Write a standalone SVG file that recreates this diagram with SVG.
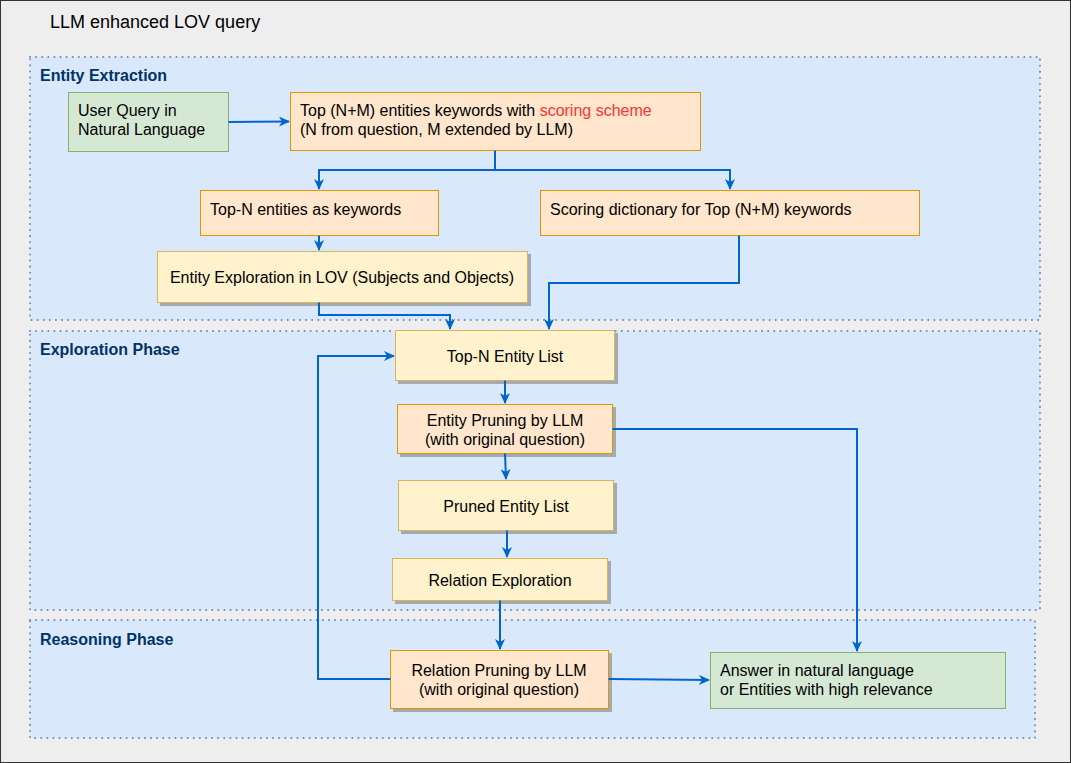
<svg xmlns="http://www.w3.org/2000/svg" width="1071" height="763" viewBox="0 0 1071 763">
<defs>
<marker id="arr" markerUnits="userSpaceOnUse" markerWidth="12" markerHeight="10" refX="10" refY="5" orient="auto">
<path d="M0,0 L11,5 L0,10 L3,5 Z" fill="#0066cc"/>
</marker>
<filter id="sh" x="-10%" y="-10%" width="120%" height="140%">
<feDropShadow dx="3" dy="3" stdDeviation="0.6" flood-color="#808080" flood-opacity="0.6"/>
</filter>
</defs>
<style>
.sec{fill:#dae8fc;stroke:#6c8ebf;stroke-width:2;stroke-dasharray:0.1 6;stroke-linecap:round}
.sl{font-family:"Liberation Sans",Arial,sans-serif;font-size:16px;font-weight:bold;fill:#003366}
.t{font-family:"Liberation Sans",Arial,sans-serif;font-size:16px;fill:#000}
.c{text-anchor:middle}
.g{fill:#d5e8d4;stroke:#82b366}
.o{fill:#ffe6cc;stroke:#d79b00}
.y{fill:#fff2cc;stroke:#d6b656}
.e{fill:none;stroke:#0066cc;stroke-width:2;marker-end:url(#arr)}
</style>
<rect x="0.5" y="0.5" width="1070" height="762" fill="#eeeeee" stroke="#333333"/>
<text x="50" y="28" font-family="Liberation Sans,Arial,sans-serif" font-size="18" fill="#000">LLM enhanced LOV query</text>
<g id="sec-entity-extraction">
<rect class="sec" x="30" y="57" width="1010" height="263"/>
<text class="sl" x="40" y="81">Entity Extraction</text>
</g>
<g id="sec-exploration">
<rect class="sec" x="30" y="331" width="1010" height="279"/>
<text class="sl" x="40" y="355">Exploration Phase</text>
</g>
<g id="sec-reasoning">
<rect class="sec" x="30" y="620" width="1005" height="118"/>
<text class="sl" x="40" y="645">Reasoning Phase</text>
</g>
<g id="n-user-query">
<rect class="g" x="68.5" y="92.5" width="160" height="59"/>
<text class="t" x="78" y="116">User Query in</text>
<text class="t" x="78" y="135">Natural Language</text>
</g>
<g id="n-top-nm">
<rect class="o" x="290.5" y="92.5" width="410" height="58"/>
<text class="t" x="300" y="116">Top (N+M) entities keywords with <tspan fill="#ff3333">scoring scheme</tspan></text>
<text class="t" x="300" y="135">(N from question, M extended by LLM)</text>
</g>
<g id="n-topn-keywords">
<rect class="o" x="200.5" y="190.5" width="238" height="45"/>
<text class="t" x="210" y="215">Top-N entities as keywords</text>
</g>
<g id="n-scoring-dict">
<rect class="o" x="540.5" y="190.5" width="379" height="45"/>
<text class="t" x="550" y="215">Scoring dictionary for Top (N+M) keywords</text>
</g>
<g id="n-entity-exploration">
<rect class="y" x="157.5" y="251.5" width="370" height="51" filter="url(#sh)"/>
<text class="t c" x="342" y="283">Entity Exploration in LOV (Subjects and Objects)</text>
</g>
<g id="n-topn-list">
<rect class="y" x="395.5" y="330.5" width="219" height="50" filter="url(#sh)"/>
<text class="t c" x="505" y="362">Top-N Entity List</text>
</g>
<g id="n-entity-pruning">
<rect class="o" x="397.5" y="404.5" width="215" height="49" filter="url(#sh)"/>
<text class="t c" x="505" y="426">Entity Pruning by LLM</text>
<text class="t c" x="505" y="445">(with original question)</text>
</g>
<g id="n-pruned-list">
<rect class="y" x="398.5" y="480.5" width="215" height="50" filter="url(#sh)"/>
<text class="t c" x="506" y="512">Pruned Entity List</text>
</g>
<g id="n-relation-exploration">
<rect class="y" x="392.5" y="558.5" width="215" height="42" filter="url(#sh)"/>
<text class="t c" x="500" y="586">Relation Exploration</text>
</g>
<g id="n-relation-pruning">
<rect class="o" x="390.5" y="650.5" width="218" height="58" filter="url(#sh)"/>
<text class="t c" x="499" y="676">Relation Pruning by LLM</text>
<text class="t c" x="499" y="695">(with original question)</text>
</g>
<g id="n-answer">
<rect class="g" x="710.5" y="652.5" width="295" height="56"/>
<text class="t" x="720" y="676">Answer in natural language</text>
<text class="t" x="720" y="695">or Entities with high relevance</text>
</g>
<g id="connectors">
<path class="e" d="M228.5,122 L289,121.5"/>
<path class="e" d="M495,150.5 L495,170 L319,170 L319,189"/>
<path class="e" d="M495,170 L730,170 L730,189"/>
<path class="e" d="M319,235.5 L319,250"/>
<path class="e" d="M319,302.5 L319,315 L450,315 L450,329"/>
<path class="e" d="M739,235.5 L739,283 L549,283 L549,329"/>
<path class="e" d="M505,380.5 L505,403"/>
<path class="e" d="M505,453.5 L506,479"/>
<path class="e" d="M612.5,429 L857,429 L857,651"/>
<path class="e" d="M507,530.5 L507,557"/>
<path class="e" d="M500,600.5 L500,649"/>
<path class="e" d="M390.5,679 L318,679 L318,356 L394,356"/>
<path class="e" d="M608.5,679 L709,680"/>
</g>
</svg>
